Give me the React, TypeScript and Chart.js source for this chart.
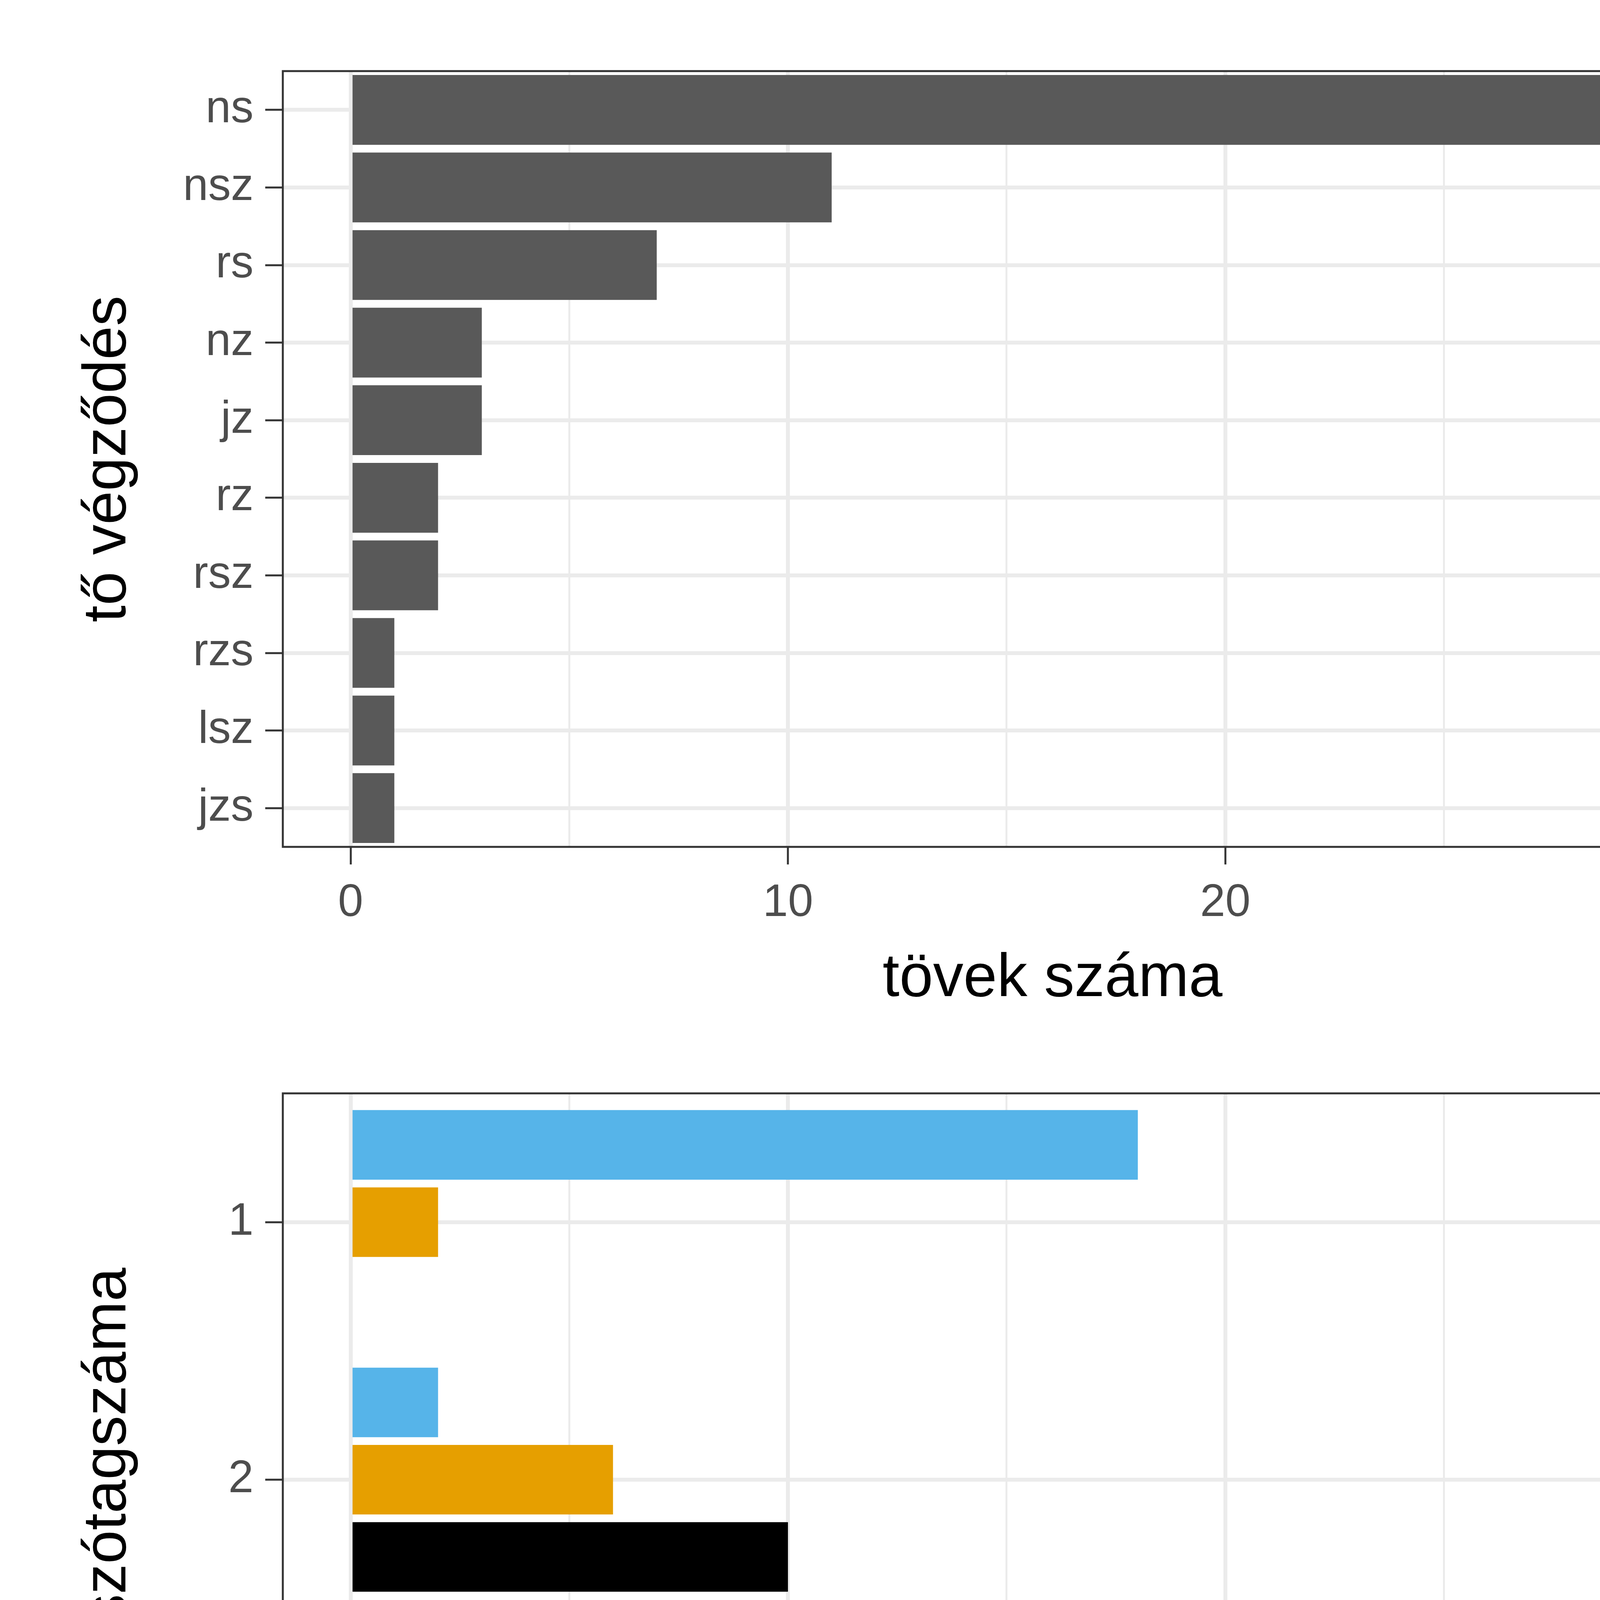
import React, { useEffect, useRef } from "react";
import { Chart, registerables } from "chart.js";
Chart.register(...registerables);

const endings = ["ns", "nsz", "rs", "nz", "jz", "rz", "rsz", "rzs", "lsz", "jzs"];
const endingCounts = [31, 11, 7, 3, 3, 2, 2, 1, 1, 1];
const syllables = ["1", "2", "3+"];
const egyebValues = [18, 2, null];
const nszValues = [2, 6, 3];
const nsValues = [null, 10, 21];
const xTicks = [0, 5, 10, 15, 20, 25, 30];
const legendItems = [
  { label: "-ns", color: "#000000", left: 2141, textLeft: 2508 },
  { label: "-nsz", color: "#E69F00", left: 2822, textLeft: 3190 },
  { label: "egyéb", color: "#56B4E9", left: 3577, textLeft: 3948 },
];

const FONT = "'Liberation Sans', Arial, sans-serif";

const borderPlugin = {
  id: "panelBorder",
  afterDraw(chart: any) {
    const { ctx, chartArea: a } = chart;
    ctx.save();
    ctx.strokeStyle = "#333333";
    ctx.lineWidth = 5;
    ctx.strokeRect(a.left, a.top, a.right - a.left, a.bottom - a.top);
    ctx.restore();
  },
};

function xScale(padBottom: number, height: number) {
  return {
    type: "linear",
    min: -1.55,
    max: 33.65,
    afterBuildTicks: (s: any) => { s.ticks = xTicks.map((v) => ({ value: v })); },
    afterFit: (s: any) => { s.height = height; },
    border: { display: false },
    grid: {
      color: "#EBEBEB",
      lineWidth: (c: any) => (c.tick && c.tick.value % 10 === 0 ? 10 : 5),
      tickColor: (c: any) => (c.tick && c.tick.value % 10 === 0 ? "#333333" : "rgba(0,0,0,0)"),
      tickLength: 45,
      tickWidth: 5,
    },
    ticks: {
      callback: (v: any) => (v % 10 === 0 ? String(v) : ""),
      font: { family: FONT, size: 116 },
      color: "#4D4D4D",
      padding: 30,
      maxRotation: 0,
      autoSkip: false,
    },
    title: {
      display: true,
      text: "tövek száma",
      font: { family: FONT, size: 155 },
      color: "#000000",
      padding: { top: 0, bottom: padBottom },
    },
  };
}

function yScale(title: string) {
  return {
    afterFit: (s: any) => { s.width = 724; },
    border: { display: false },
    grid: { color: "#EBEBEB", lineWidth: 10, offset: false, tickColor: "#333333", tickLength: 45, tickWidth: 5 },
    ticks: { font: { family: FONT, size: 116 }, color: "#4D4D4D", padding: 30 },
    title: {
      display: true,
      text: title,
      font: { family: FONT, size: 155 },
      color: "#000000",
      padding: { top: 185, bottom: 0 },
    },
  };
}

export default function App() {
  const r1 = useRef<HTMLCanvasElement>(null);
  const r2 = useRef<HTMLCanvasElement>(null);
  useEffect(() => {
    const c1 = new Chart(r1.current as any, {
      type: "bar",
      data: {
        labels: endings,
        datasets: [{ data: endingCounts, backgroundColor: "#595959", barPercentage: 0.9, categoryPercentage: 1 }],
      },
      options: {
        indexAxis: "y",
        animation: false,
        responsive: false,
        devicePixelRatio: 1,
        layout: { padding: { top: 182, right: 135, left: 0, bottom: 0 } },
        plugins: { legend: { display: false }, tooltip: { enabled: false } },
        scales: { x: xScale(100, 532) as any, y: yScale("tő végződés") as any },
      },
      plugins: [borderPlugin],
    });
    const c2 = new Chart(r2.current as any, {
      type: "bar",
      data: {
        labels: syllables,
        datasets: [
          { label: "egyéb", data: egyebValues as any, backgroundColor: "#56B4E9", barPercentage: 0.9, categoryPercentage: 0.9 },
          { label: "-nsz", data: nszValues, backgroundColor: "#E69F00", barPercentage: 0.9, categoryPercentage: 0.9 },
          { label: "-ns", data: nsValues as any, backgroundColor: "#000000", barPercentage: 0.9, categoryPercentage: 0.9 },
        ],
      },
      options: {
        indexAxis: "y",
        animation: false,
        responsive: false,
        devicePixelRatio: 1,
        layout: { padding: { top: 199, right: 135, left: 0, bottom: 0 } },
        plugins: { legend: { display: false }, tooltip: { enabled: false } },
        scales: { x: xScale(178, 623) as any, y: yScale("tő szótagszáma") as any },
      },
      plugins: [borderPlugin],
    });
    return () => { c1.destroy(); c2.destroy(); };
  }, []);
  return (
    <div style={{ position: "absolute", left: 0, top: 0, width: 4800, height: 6000, background: "#fff", fontFamily: FONT }}>
      <canvas ref={r1} width={4800} height={2700} style={{ position: "absolute", left: 0, top: 0 }} />
      <canvas ref={r2} width={4800} height={2800} style={{ position: "absolute", left: 0, top: 2600 }} />
      <div style={{ position: "absolute", left: 1037, top: 5652 - 90, fontSize: 155, lineHeight: "180px", color: "#000" }}>tő végződés</div>
      {legendItems.map((it) => (
        <React.Fragment key={it.label}>
          <div style={{ position: "absolute", left: it.left, top: 5516, width: 265, height: 265, background: it.color }} />
          <div style={{ position: "absolute", left: it.textLeft, top: 5648 - 70, fontSize: 116, lineHeight: "140px", color: "#000" }}>{it.label}</div>
        </React.Fragment>
      ))}
    </div>
  );
}
